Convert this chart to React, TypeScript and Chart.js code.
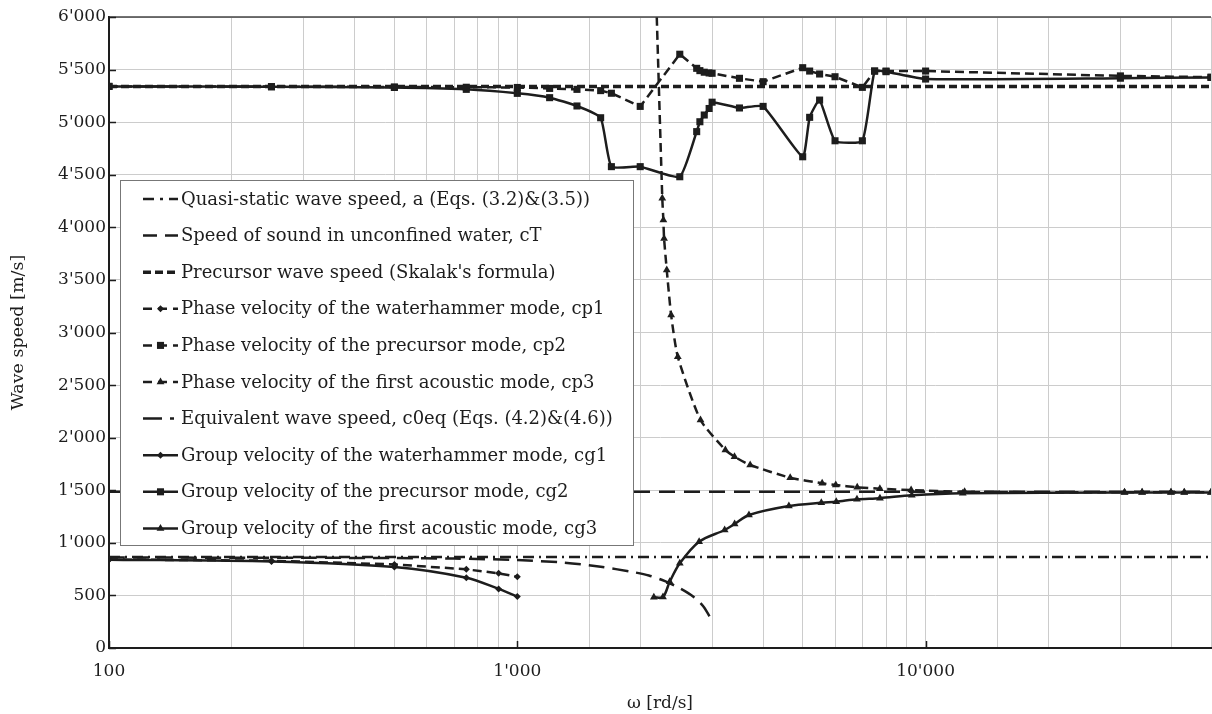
import { useEffect, useRef } from 'react';
import { Chart, registerables } from 'chart.js';

Chart.register(...registerables);

const SERIF = '"DejaVu Serif", "Liberation Serif", serif';
const INK = '#1d1d1d';
const GRID = '#cccccc';

// Constant wave speeds, drawn across the whole ω range
const omegaRange = [100, 50000];
const quasiStaticA = [865, 865];
const soundSpeedCT = [1485, 1485];
const skalakPrecursor = [5340, 5340];

// Waterhammer mode
const omegaMode1 = [100, 250, 500, 750, 900, 1000];
const phaseCp1 = [842, 830, 795, 748, 710, 678];
const groupCg1 = [840, 822, 770, 668, 562, 490];

// Precursor mode
const omegaMode2 = [100, 250, 500, 750, 1000, 1200, 1400, 1600, 1700, 2000, 2500, 2750, 2800, 2870, 2950, 3000, 3500, 4000, 5000, 5200, 5500, 6000, 7000, 7500, 8000, 10000, 30000, 50000];
const phaseCp2 = [5340, 5338, 5335, 5332, 5330, 5321, 5312, 5300, 5275, 5150, 5646, 5512, 5490, 5475, 5468, 5465, 5417, 5385, 5518, 5486, 5458, 5432, 5331, 5486, 5486, 5486, 5440, 5428];
const groupCg2 = [5340, 5336, 5330, 5312, 5274, 5233, 5154, 5042, 4577, 4577, 4481, 4910, 5004, 5068, 5130, 5190, 5135, 5150, 4671, 5046, 5210, 4823, 4823, 5486, 5480, 5410, 5418, 5425];

// First acoustic mode
const omegaCp3 = [2180, 2265, 2279, 2288, 2323, 2381, 2472, 2810, 3233, 3404, 3718, 4660, 5580, 6025, 6800, 7727, 9216, 12460, 30700, 33900, 39900, 43000, 50000];
const phaseCp3 = [6400, 4276, 4070, 3895, 3594, 3166, 2770, 2168, 1883, 1819, 1740, 1619, 1566, 1550, 1528, 1515, 1502, 1485, 1480, 1480, 1480, 1480, 1480];
const omegaCg3 = [2160, 2274, 2362, 2500, 2788, 3220, 3406, 3693, 4625, 5554, 6041, 6790, 7730, 9250, 12330, 30700, 33900, 39900, 43000, 50000];
const groupCg3 = [482, 484, 630, 805, 1011, 1122, 1179, 1265, 1350, 1381, 1391, 1414, 1425, 1452, 1471, 1478, 1478, 1478, 1478, 1478];

// Equivalent wave speed c0eq
const omegaEq = [100, 300, 500, 700, 1000, 1300, 1600, 1900, 2100, 2300, 2500, 2700, 2850, 2970];
const equivC0eq = [860, 858, 855, 850, 836, 812, 772, 725, 690, 635, 568, 488, 400, 290];

const seriesLabels = [
  'Quasi-static wave speed, a (Eqs. (3.2)&(3.5))',
  'Speed of sound in unconfined water, cT',
  "Precursor wave speed (Skalak's formula)",
  'Phase velocity of the waterhammer mode, cp1',
  'Phase velocity of the precursor mode, cp2',
  'Phase velocity of the first acoustic mode, cp3',
  'Equivalent wave speed, c0eq (Eqs. (4.2)&(4.6))',
  'Group velocity of the waterhammer mode, cg1',
  'Group velocity of the precursor mode, cg2',
  'Group velocity of the first acoustic mode, cg3',
];

const labelledOmega = [100, 1000, 10000];
const xTitle = 'ω [rd/s]';
const yTitle = 'Wave speed [m/s]';

const withApostrophes = (n: number) =>
  Math.round(n).toString().replace(/\B(?=(\d{3})+(?!\d))/g, "'");

const pairs = (xs: number[], ys: number[]) => xs.map((x, i) => ({ x, y: ys[i] }));

function drawMarker(ctx: CanvasRenderingContext2D, style: string, r: number, x: number, y: number) {
  ctx.beginPath();
  if (style === 'rect') {
    const s = r * Math.SQRT1_2;
    ctx.rect(x - s, y - s, 2 * s, 2 * s);
  } else if (style === 'rectRot') {
    ctx.moveTo(x, y - r);
    ctx.lineTo(x + r, y);
    ctx.lineTo(x, y + r);
    ctx.lineTo(x - r, y);
    ctx.closePath();
  } else if (style === 'triangle') {
    const a = (2 * Math.PI) / 3;
    ctx.moveTo(x, y - r);
    ctx.lineTo(x + Math.sin(a) * r, y - Math.cos(a) * r);
    ctx.lineTo(x + Math.sin(2 * a) * r, y - Math.cos(2 * a) * r);
    ctx.closePath();
  }
  ctx.fillStyle = INK;
  ctx.fill();
}

// Inward tick marks, top frame line and the boxed legend inside the plot
const framePlugin = {
  id: 'frameAndLegend',
  afterDraw(chart: any) {
    const { ctx, chartArea: a } = chart;
    const x = chart.scales.x;
    const y = chart.scales.y;
    ctx.save();
    ctx.strokeStyle = '#444';
    ctx.lineWidth = 1.5;
    ctx.beginPath();
    ctx.moveTo(a.left, a.top);
    ctx.lineTo(a.right, a.top);
    ctx.stroke();

    ctx.strokeStyle = INK;
    ctx.lineWidth = 1.5;
    ctx.beginPath();
    for (let v = 0; v <= 6000; v += 500) {
      const py = Math.round(y.getPixelForValue(v)) + 0.5;
      ctx.moveTo(a.left, py);
      ctx.lineTo(a.left + 7, py);
    }
    for (const w of labelledOmega) {
      const px = Math.round(x.getPixelForValue(w)) + 0.5;
      ctx.moveTo(px, a.bottom);
      ctx.lineTo(px, a.bottom - 7);
    }
    ctx.stroke();

    // legend box
    const bx = 120.5, by = 180.5, bw = 513, bh = 365;
    ctx.fillStyle = '#ffffff';
    ctx.fillRect(bx, by, bw, bh);
    ctx.strokeStyle = '#777';
    ctx.lineWidth = 1;
    ctx.strokeRect(bx, by, bw, bh);

    ctx.font = '18px ' + SERIF;
    ctx.textBaseline = 'middle';
    ctx.textAlign = 'left';
    chart.data.datasets.forEach((ds: any, i: number) => {
      const ly = 199 + i * 36.6;
      ctx.strokeStyle = INK;
      ctx.lineWidth = ds.borderWidth;
      ctx.setLineDash(ds.legendDash || []);
      ctx.beginPath();
      ctx.moveTo(143, ly);
      ctx.lineTo(178, ly);
      ctx.stroke();
      ctx.setLineDash([]);
      if (ds.pointRadius > 0) drawMarker(ctx, ds.pointStyle, ds.pointRadius, 160.5, ly);
      ctx.fillStyle = INK;
      ctx.fillText(ds.label, 181, ly + 1);
    });
    ctx.restore();
  },
};

export default function App() {
  const canvasRef = useRef<HTMLCanvasElement | null>(null);

  useEffect(() => {
    if (!canvasRef.current) return;
    const line = (label: string, data: any[], extra: any) => ({
      label,
      data,
      borderColor: INK,
      backgroundColor: INK,
      borderWidth: 2.5,
      pointRadius: 0,
      pointBorderWidth: 0,
      pointBackgroundColor: INK,
      pointBorderColor: INK,
      tension: 0,
      ...extra,
    });

    const chart = new Chart(canvasRef.current, {
      type: 'line',
      data: {
        datasets: [
          line(seriesLabels[0], pairs(omegaRange, quasiStaticA), { borderDash: [11, 5, 2, 5], legendDash: [11, 6, 3, 6] }),
          line(seriesLabels[1], pairs(omegaRange, soundSpeedCT), { borderDash: [16, 9], legendDash: [14, 8] }),
          line(seriesLabels[2], pairs(omegaRange, skalakPrecursor), { borderDash: [8, 4], borderWidth: 3.5, legendDash: [8, 4] }),
          line(seriesLabels[3], pairs(omegaMode1, phaseCp1), { borderDash: [9, 5], legendDash: [9, 6], pointStyle: 'rectRot', pointRadius: 3.5 }),
          line(seriesLabels[4], pairs(omegaMode2, phaseCp2), { borderDash: [9, 5], legendDash: [9, 6], pointStyle: 'rect', pointRadius: 5 }),
          line(seriesLabels[5], pairs(omegaCp3, phaseCp3), { borderDash: [9, 5], legendDash: [9, 6], pointStyle: 'triangle', pointRadius: 4.5, tension: 0.2 }),
          line(seriesLabels[6], pairs(omegaEq, equivC0eq), { borderDash: [16, 8], legendDash: [19, 8, 4, 8], tension: 0.3 }),
          line(seriesLabels[7], pairs(omegaMode1, groupCg1), { pointStyle: 'rectRot', pointRadius: 3.5, tension: 0.3 }),
          line(seriesLabels[8], pairs(omegaMode2, groupCg2), { pointStyle: 'rect', pointRadius: 5, tension: 0.15 }),
          line(seriesLabels[9], pairs(omegaCg3, groupCg3), { pointStyle: 'triangle', pointRadius: 4.5, tension: 0.3 }),
        ],
      },
      options: {
        animation: false,
        responsive: true,
        maintainAspectRatio: false,
        layout: { autoPadding: false, padding: { top: 17, right: 1, left: 0, bottom: 0 } },
        plugins: { legend: { display: false }, tooltip: { enabled: false } },
        scales: {
          x: {
            type: 'logarithmic',
            min: 100,
            max: 50000,
            afterFit: (s: any) => { s.height = 66; s.paddingLeft = 0; s.paddingRight = 0; },
            grid: { color: GRID, lineWidth: 1, drawTicks: false },
            border: { display: true, color: INK, width: 2 },
            ticks: {
              autoSkip: false,
              maxRotation: 0,
              padding: 13,
              color: INK,
              font: { family: SERIF, size: 17 },
              callback: (v: any) => (labelledOmega.includes(Number(v)) ? withApostrophes(Number(v)) : ''),
            },
            title: { display: true, text: xTitle, color: INK, font: { family: SERIF, size: 17 }, padding: { top: 0, bottom: 0 } },
          },
          y: {
            type: 'linear',
            min: 0,
            max: 6000,
            afterFit: (s: any) => { s.width = 109; s.paddingTop = 0; s.paddingBottom = 0; },
            grid: { color: GRID, lineWidth: 1, drawTicks: false },
            border: { display: true, color: INK, width: 2 },
            ticks: {
              stepSize: 500,
              padding: 3,
              color: INK,
              font: { family: SERIF, size: 17 },
              callback: (v: any) => withApostrophes(Number(v)),
            },
            title: { display: true, text: yTitle, color: INK, font: { family: SERIF, size: 17.5 }, padding: { top: 8, bottom: 0 } },
          },
        },
      } as any,
      plugins: [framePlugin],
    });
    return () => chart.destroy();
  }, []);

  return (
    <div style={{ position: 'fixed', left: 0, top: 0, width: 1212, height: 714, background: '#fff' }}>
      <canvas ref={canvasRef} />
    </div>
  );
}
